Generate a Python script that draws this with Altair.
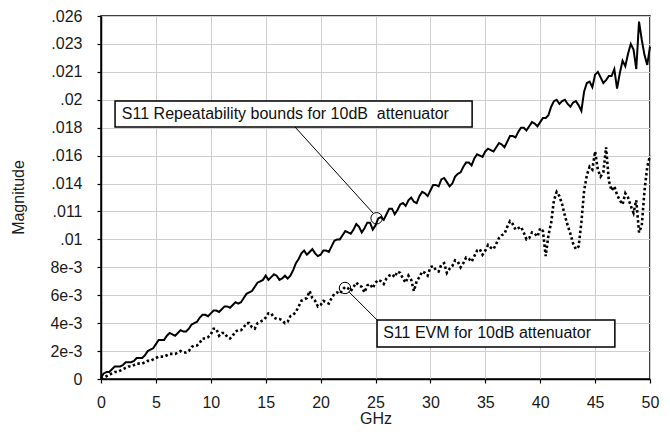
import altair as alt
import pandas as pd

# ---------------- data ----------------
# readings at every 0.5 GHz (0 ... 50)
rep_half = [
    0.0001, 0.0005, 0.0007, 0.0009, 0.0010, 0.0012, 0.0013, 0.0015, 0.0017, 0.0021,
    0.0025, 0.0028, 0.0031, 0.0032, 0.0033, 0.0034, 0.0036, 0.0040, 0.0044, 0.0046,
    0.0047, 0.0049, 0.0050, 0.0052, 0.0053, 0.0054, 0.0058, 0.0062, 0.0066, 0.0070,
    0.0074, 0.0073, 0.0074, 0.0072, 0.0072, 0.0078, 0.0086, 0.0092, 0.0091, 0.0090,
    0.0089, 0.0092, 0.0095, 0.0100, 0.0103, 0.0105, 0.0107, 0.0109, 0.0108, 0.0112,
    0.0110, 0.0116, 0.0118, 0.0122, 0.0121, 0.0126, 0.0128, 0.0127, 0.0131, 0.0133,
    0.0135, 0.0139, 0.0143, 0.0141, 0.0140, 0.0147, 0.0152, 0.0155, 0.0158, 0.0160,
    0.0163, 0.0164, 0.0166, 0.0168, 0.0170, 0.0174, 0.0177, 0.0180, 0.0181, 0.0183,
    0.0184, 0.0187, 0.0195, 0.0200, 0.0199, 0.0197, 0.0198, 0.0196, 0.0206, 0.0213,
    0.0218, 0.0216, 0.0214, 0.0217, 0.0208, 0.0228, 0.0233, 0.0236, 0.0256, 0.0232,
    0.0238,
]
# readings in between (0.25, 0.75, ... 49.75 GHz) - the fine jitter of the trace
rep_quarter = [
    0.0004, 0.0005, 0.0009, 0.0009, 0.0012, 0.0012, 0.0015, 0.0015, 0.0020, 0.0022,
    0.0028, 0.0028, 0.0033, 0.0031, 0.0035, 0.0034, 0.0039, 0.0041, 0.0046, 0.0045,
    0.0049, 0.0048, 0.0052, 0.0051, 0.0055, 0.0055, 0.0061, 0.0063, 0.0069, 0.0071,
    0.0071, 0.0075, 0.0071, 0.0074, 0.0074, 0.0083, 0.0090, 0.0089, 0.0093, 0.0088,
    0.0092, 0.0091, 0.0099, 0.0100, 0.0106, 0.0104, 0.0111, 0.0105, 0.0112, 0.0107,
    0.0115, 0.0114, 0.0122, 0.0118, 0.0125, 0.0124, 0.0130, 0.0126, 0.0134, 0.0131,
    0.0139, 0.0138, 0.0144, 0.0138, 0.0145, 0.0148, 0.0155, 0.0153, 0.0161, 0.0159,
    0.0165, 0.0163, 0.0169, 0.0166, 0.0174, 0.0173, 0.0180, 0.0178, 0.0184, 0.0181,
    0.0187, 0.0189, 0.0199, 0.0197, 0.0200, 0.0195, 0.0199, 0.0192, 0.0212, 0.0209,
    0.0220, 0.0212, 0.0217, 0.0222, 0.0219, 0.0224, 0.0240, 0.0222, 0.0243, 0.0225,
]

evm_half = [
    0.0000, 0.0002, 0.0004, 0.0005, 0.0007, 0.0009, 0.0010, 0.0011, 0.0012, 0.0013,
    0.0015, 0.0016, 0.0017, 0.0018, 0.0019, 0.0019, 0.0020, 0.0024, 0.0026, 0.0029,
    0.0032, 0.0036, 0.0033, 0.0030, 0.0031, 0.0035, 0.0037, 0.0040, 0.0036, 0.0041,
    0.0044, 0.0047, 0.0043, 0.0042, 0.0041, 0.0046, 0.0052, 0.0057, 0.0063, 0.0056,
    0.0053, 0.0055, 0.0058, 0.0062, 0.0064, 0.0065, 0.0066, 0.0067, 0.0062, 0.0068,
    0.0069, 0.0070, 0.0072, 0.0075, 0.0077, 0.0072, 0.0074, 0.0063, 0.0073, 0.0076,
    0.0080, 0.0078, 0.0082, 0.0076, 0.0081, 0.0084, 0.0083, 0.0086, 0.0088, 0.0093,
    0.0092, 0.0094, 0.0097, 0.0103, 0.0109, 0.0111, 0.0108, 0.0105, 0.0101, 0.0104,
    0.0108, 0.0088, 0.0112, 0.0134, 0.0125, 0.0110, 0.0097, 0.0095, 0.0135, 0.0152,
    0.0163, 0.0145, 0.0166, 0.0135, 0.0132, 0.0125, 0.0130, 0.0119, 0.0105, 0.0135,
    0.0160,
]
evm_quarter = [
    0.0001, 0.0003, 0.0005, 0.0006, 0.0008, 0.0009, 0.0011, 0.0011, 0.0013, 0.0014,
    0.0016, 0.0016, 0.0018, 0.0018, 0.0020, 0.0019, 0.0023, 0.0024, 0.0029, 0.0030,
    0.0036, 0.0031, 0.0033, 0.0029, 0.0034, 0.0035, 0.0040, 0.0037, 0.0040, 0.0042,
    0.0047, 0.0044, 0.0043, 0.0040, 0.0045, 0.0048, 0.0056, 0.0058, 0.0058, 0.0052,
    0.0056, 0.0054, 0.0061, 0.0061, 0.0066, 0.0063, 0.0069, 0.0066, 0.0067, 0.0065,
    0.0071, 0.0068, 0.0074, 0.0073, 0.0076, 0.0069, 0.0071, 0.0070, 0.0077, 0.0074,
    0.0081, 0.0077, 0.0083, 0.0079, 0.0085, 0.0080, 0.0087, 0.0084, 0.0092, 0.0089,
    0.0096, 0.0093, 0.0101, 0.0104, 0.0113, 0.0107, 0.0109, 0.0100, 0.0105, 0.0102,
    0.0106, 0.0103, 0.0128, 0.0131, 0.0117, 0.0104, 0.0093, 0.0112, 0.0146, 0.0150,
    0.0150, 0.0148, 0.0142, 0.0138, 0.0128, 0.0133, 0.0124, 0.0128, 0.0110, 0.0152,
]

x_ticks = [0, 5, 10, 15, 20, 25, 30, 35, 40, 45, 50]
y_ticks = [0, 0.002, 0.004, 0.006, 0.008, 0.010, 0.012, 0.014, 0.016, 0.018,
           0.020, 0.022, 0.024, 0.026]
y_labels = ["0", "2e-3", "4e-3", "6e-3", "8e-3", ".01", ".011", ".014", ".016",
            ".018", ".02", ".021", ".023", ".026"]

# annotations (data units)
ann_text = ["S11 Repeatability bounds for 10dB\u00a0 attenuator", "S11 EVM for 10dB attenuator"]
box_x1 = [1.28, 25.14]
box_x2 = [33.8, 46.8]
box_y1 = [0.01991, 0.00423]
box_y2 = [0.01805, 0.00229]
text_x = [1.9, 25.7]
text_y = [0.01898, 0.00329]
circ_x = [25.1, 22.22]
circ_y = [0.01151, 0.00652]
lead_x1 = [17.67, 22.61]
lead_y1 = [0.01805, 0.00622]
lead_x2 = [24.77, 25.14]
lead_y2 = [0.01189, 0.00423]


def interleave(half, quarter):
    out = []
    for i, v in enumerate(half):
        out.append(v)
        if i < len(quarter):
            out.append(quarter[i])
    return out


freq = [i * 0.25 for i in range(201)]  # GHz
repeat_bounds = interleave(rep_half, rep_quarter)
evm = interleave(evm_half, evm_quarter)

# ---------------- chart ----------------
FONT = "Liberation Sans"
label_expr = "[" + ",".join("'%s'" % s for s in y_labels) + "][round(datum.value/0.002)]"

xscale = alt.Scale(domain=[0, 50], nice=False, zero=False)
yscale = alt.Scale(domain=[0, 0.026], nice=False, zero=False)

x_axis = alt.Axis(values=x_ticks, format="d", title="GHz", labelFlush=False,
                  grid=True, tickSize=4, labelPadding=11, titleY=39,
                  titleBaseline="middle", labelOverlap=False)
y_axis = alt.Axis(values=y_ticks, labelExpr=label_expr, title="Magnitude",
                  grid=True, tickSize=4, labelPadding=15, titleX=-83, titleY=181,
                  titleBaseline="middle", labelOverlap=False, labelFlush=False)


def X(field):
    return alt.X(field, scale=xscale, axis=x_axis, title="GHz")


def Y(field):
    return alt.Y(field, scale=yscale, axis=y_axis, title="Magnitude")


df_rep = pd.DataFrame({"GHz": freq, "Magnitude": repeat_bounds})
df_evm = pd.DataFrame({"GHz": freq, "Magnitude": evm})

rep_line = alt.Chart(df_rep).mark_line(color="black", strokeWidth=2).encode(
    x=X("GHz:Q"), y=Y("Magnitude:Q"),
)

evm_line = alt.Chart(df_evm).mark_line(
    color="black", strokeWidth=2.6, strokeDash=[2.5, 2.5], strokeCap="butt"
).encode(
    x=X("GHz:Q"), y=Y("Magnitude:Q"),
)

df_lead = pd.DataFrame({"GHz": lead_x1, "Magnitude": lead_y1, "x2": lead_x2, "y2": lead_y2})
leaders = alt.Chart(df_lead).mark_rule(color="black", strokeWidth=1).encode(
    x=X("GHz:Q"), x2="x2:Q", y=Y("Magnitude:Q"), y2="y2:Q",
)

df_circ = pd.DataFrame({"GHz": circ_x, "Magnitude": circ_y})
circles = alt.Chart(df_circ).mark_point(
    shape="circle", filled=False, color="black", size=130, strokeWidth=1, opacity=1
).encode(
    x=X("GHz:Q"), y=Y("Magnitude:Q"),
)

df_box = pd.DataFrame({"GHz": box_x1, "x2": box_x2, "Magnitude": box_y1, "y2": box_y2})
boxes = alt.Chart(df_box).mark_rect(fill="white", stroke="black", strokeWidth=1.5).encode(
    x=X("GHz:Q"), x2="x2:Q", y=Y("Magnitude:Q"), y2="y2:Q",
)

df_text = pd.DataFrame({"GHz": text_x, "Magnitude": text_y, "t": ann_text})
texts = alt.Chart(df_text).mark_text(
    align="left", baseline="middle", font=FONT, fontSize=16, color="#111111"
).encode(
    x=X("GHz:Q"), y=Y("Magnitude:Q"), text="t:N",
)

chart = alt.layer(rep_line, evm_line, leaders, circles, boxes, texts).properties(
    width=549,
    height=363,
    autosize=alt.AutoSizeParams(type="none"),
    padding={"left": 93, "top": 8, "right": 12, "bottom": 47},
    background="white",
).configure_view(
    stroke="black", strokeWidth=1.5
).configure_axis(
    domainColor="black", domainWidth=1.5, tickColor="black", tickWidth=1.2,
    gridColor="#cfcfcf", gridWidth=1,
    labelFont=FONT, labelFontSize=16, labelColor="#1a1a1a",
    titleFont=FONT, titleFontSize=16, titleColor="#1a1a1a", titleFontWeight="normal",
)

chart.save("out.html", embed_options={"renderer": "svg", "actions": False})
